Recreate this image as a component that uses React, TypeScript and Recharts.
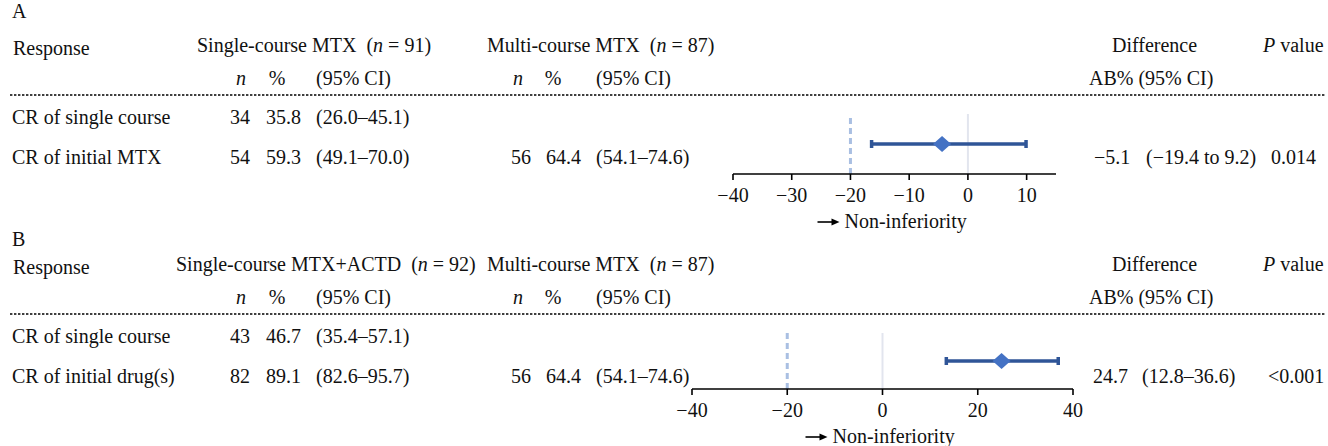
import React from 'react';
import { ScatterChart, Scatter, XAxis, YAxis, ReferenceLine, ErrorBar } from 'recharts';

// panel A: single-course MTX vs multi-course MTX
const rowLabelsA = ['CR of single course', 'CR of initial MTX'];
const groupNamesA = ['Single-course MTX', 'Multi-course MTX'];
const groupSizesA = [91, 87];
const singleNA = ['34', '54'];
const singlePctA = ['35.8', '59.3'];
const singleCiA = ['(26.0–45.1)', '(49.1–70.0)'];
const multiNA = ['', '56'];
const multiPctA = ['', '64.4'];
const multiCiA = ['', '(54.1–74.6)'];
const diffA = ['−5.1', '(−19.4 to 9.2)'];
const pValueA = '0.014';

// panel B: single-course MTX+ACTD vs multi-course MTX
const rowLabelsB = ['CR of single course', 'CR of initial drug(s)'];
const groupNamesB = ['Single-course MTX+ACTD', 'Multi-course MTX'];
const groupSizesB = [92, 87];
const singleNB = ['43', '82'];
const singlePctB = ['46.7', '89.1'];
const singleCiB = ['(35.4–57.1)', '(82.6–95.7)'];
const multiNB = ['', '56'];
const multiPctB = ['', '64.4'];
const multiCiB = ['', '(54.1–74.6)'];
const diffB = ['24.7', '(12.8–36.6)'];
const pValueB = '<0.001';

// forest plot values (as drawn)
const estimateA = [-4.4];
const lowerA = [-16.4];
const upperA = [9.9];
const ticksA = [-40, -30, -20, -10, 0, 10];

const estimateB = [25.0];
const lowerB = [13.4];
const upperB = [36.9];
const ticksB = [-40, -20, 0, 20, 40];

const marginLine = -20;

const FONT = "'Liberation Serif', 'Times New Roman', serif";
const FS = 20;

const toRows = (est: number[], lo: number[], hi: number[]) =>
  est.map((e, i) => ({ x: e, y: 0.5, err: [e - lo[i], hi[i] - e] }));

const fmtTick = (v: number) => (v < 0 ? `−${Math.abs(v)}` : `${v}`);

const Diamond = (props: any) => {
  const { cx, cy } = props;
  return (
    <polygon
      points={`${cx - 9},${cy} ${cx},${cy - 8} ${cx + 9},${cy} ${cx},${cy + 8}`}
      fill="#4472c4"
    />
  );
};

const NonInferiority = (props: any) => {
  const vb = props.viewBox || {};
  const cx = vb.x + vb.width / 2 - 3;
  const y = vb.y + 54;
  return (
    <g>
      <line x1={cx - 74} x2={cx - 59} y1={y - 6} y2={y - 6} stroke="#000" strokeWidth={1.6} />
      <polygon points={`${cx - 60},${y - 9.5} ${cx - 52},${y - 6} ${cx - 60},${y - 2.5}`} fill="#000" />
      <text x={cx - 47} y={y} fontFamily={FONT} fontSize={FS} fill="#111">
        Non-inferiority
      </text>
    </g>
  );
};

interface ForestProps {
  left: number;
  top: number;
  width: number;
  marginLeft: number;
  marginRight: number;
  plotHeight: number;
  domain: number[];
  ticks: number[];
  data: any[];
}

const Forest: React.FC<ForestProps> = ({ left, top, width, marginLeft, marginRight, plotHeight, domain, ticks, data }) => (
  <div style={{ position: 'absolute', left, top }}>
    <ScatterChart
      width={width}
      height={5 + plotHeight + 60}
      margin={{ top: 5, right: marginRight, bottom: 0, left: marginLeft }}
    >
      <XAxis
        type="number"
        dataKey="x"
        domain={domain}
        ticks={ticks}
        allowDataOverflow
        height={60}
        tickFormatter={fmtTick}
        tick={{ fontFamily: FONT, fontSize: FS, fill: '#111' }}
        axisLine={{ stroke: '#000', strokeWidth: 1.6 }}
        tickLine={{ stroke: '#000', strokeWidth: 1.6 }}
        tickSize={6}
        tickMargin={8}
        label={NonInferiority}
      />
      <YAxis type="number" dataKey="y" domain={[0, 1]} hide />
      <ReferenceLine x={0} stroke="#e2e5ee" strokeWidth={2} />
      <ReferenceLine x={marginLine} stroke="#a9bfe2" strokeWidth={3} strokeDasharray="6 4" />
      <Scatter data={data} shape={Diamond} isAnimationActive={false}>
        <ErrorBar dataKey="err" direction="x" width={4} strokeWidth={3.5} stroke="#2f5597" />
      </Scatter>
    </ScatterChart>
  </div>
);

interface TableProps {
  letter: string;
  letterY: number;
  top: number;
  rowLabels: string[];
  groupNames: string[];
  groupSizes: number[];
  groupStarts: number[];
  singleN: string[];
  singlePct: string[];
  singleCi: string[];
  multiN: string[];
  multiPct: string[];
  multiCi: string[];
  diff: string[];
  diffStarts: number[];
  pValue: string;
  pStart: number;
}

const Table: React.FC<TableProps> = (p) => {
  const t = p.top;
  const rowY = [t + 124, t + 164];
  const cols = [
    { nEnd: 250, pctEnd: 301, ci: 316, nHead: 241, pctHead: 277, n: p.singleN, pct: p.singlePct, cis: p.singleCi },
    { nEnd: 531, pctEnd: 581, ci: 596, nHead: 518, pctHead: 553, n: p.multiN, pct: p.multiPct, cis: p.multiCi },
  ];
  return (
    <g fontFamily={FONT} fontSize={FS} fill="#111">
      <text x={12} y={p.letterY}>{p.letter}</text>
      <text x={13} y={t + 55}>Response</text>
      {p.groupNames.map((g, i) => (
        <text key={g} x={p.groupStarts[i]} y={t + 52}>
          {g}{'\u00a0\u00a0('}<tspan fontStyle="italic">n</tspan>{'\u00a0=\u00a0'}{p.groupSizes[i]})
        </text>
      ))}
      <text x={1112} y={t + 52}>Difference</text>
      <text x={1263} y={t + 52}>
        <tspan fontStyle="italic">P</tspan> value
      </text>
      {cols.map((c, i) => (
        <g key={i}>
          <text x={c.nHead} y={t + 85} textAnchor="middle" fontStyle="italic">n</text>
          <text x={c.pctHead} y={t + 85} textAnchor="middle">%</text>
          <text x={c.ci} y={t + 85}>(95% CI)</text>
          {rowY.map((y, r) => (
            <g key={r}>
              <text x={c.nEnd} y={y} textAnchor="end">{c.n[r]}</text>
              <text x={c.pctEnd} y={y} textAnchor="end">{c.pct[r]}</text>
              <text x={c.ci} y={y}>{c.cis[r]}</text>
            </g>
          ))}
        </g>
      ))}
      <text x={1089} y={t + 85}>AB% (95% CI)</text>
      <line x1={10} x2={1326} y1={t + 95} y2={t + 95} stroke="#000" strokeWidth={1.6} strokeDasharray="2.4 1.6" />
      {p.rowLabels.map((l, r) => (
        <text key={l} x={12} y={rowY[r]}>{l}</text>
      ))}
      <text x={p.diffStarts[0]} y={rowY[1]}>{p.diff[0]}</text>
      <text x={p.diffStarts[1]} y={rowY[1]}>{p.diff[1]}</text>
      <text x={p.pStart} y={rowY[1]}>{p.pValue}</text>
    </g>
  );
};

export default function App() {
  return (
    <div style={{ position: 'absolute', left: 0, top: 0, width: 1328, height: 446, background: '#fff', overflow: 'hidden' }}>
      <svg width={1328} height={446} style={{ position: 'absolute', left: 0, top: 0 }}>
        <Table
          letter="A"
          letterY={18}
          top={0}
          rowLabels={rowLabelsA}
          groupNames={groupNamesA}
          groupSizes={groupSizesA}
          groupStarts={[197, 487]}
          singleN={singleNA}
          singlePct={singlePctA}
          singleCi={singleCiA}
          multiN={multiNA}
          multiPct={multiPctA}
          multiCi={multiCiA}
          diff={diffA}
          diffStarts={[1094, 1146]}
          pValue={pValueA}
          pStart={1271}
        />
        <Table
          letter="B"
          letterY={246}
          top={219}
          rowLabels={rowLabelsB}
          groupNames={groupNamesB}
          groupSizes={groupSizesB}
          groupStarts={[176, 487]}
          singleN={singleNB}
          singlePct={singlePctB}
          singleCi={singleCiB}
          multiN={multiNB}
          multiPct={multiPctB}
          multiCi={multiCiB}
          diff={diffB}
          diffStarts={[1093, 1142]}
          pValue={pValueB}
          pStart={1268}
        />
      </svg>
      <Forest
        left={700}
        top={109}
        width={390}
        marginLeft={33}
        marginRight={34}
        plotHeight={60}
        domain={[-40, 15]}
        ticks={ticksA}
        data={toRows(estimateA, lowerA, upperA)}
      />
      <Forest
        left={660}
        top={328}
        width={443}
        marginLeft={32}
        marginRight={30}
        plotHeight={56}
        domain={[-40, 40]}
        ticks={ticksB}
        data={toRows(estimateB, lowerB, upperB)}
      />
    </div>
  );
}
